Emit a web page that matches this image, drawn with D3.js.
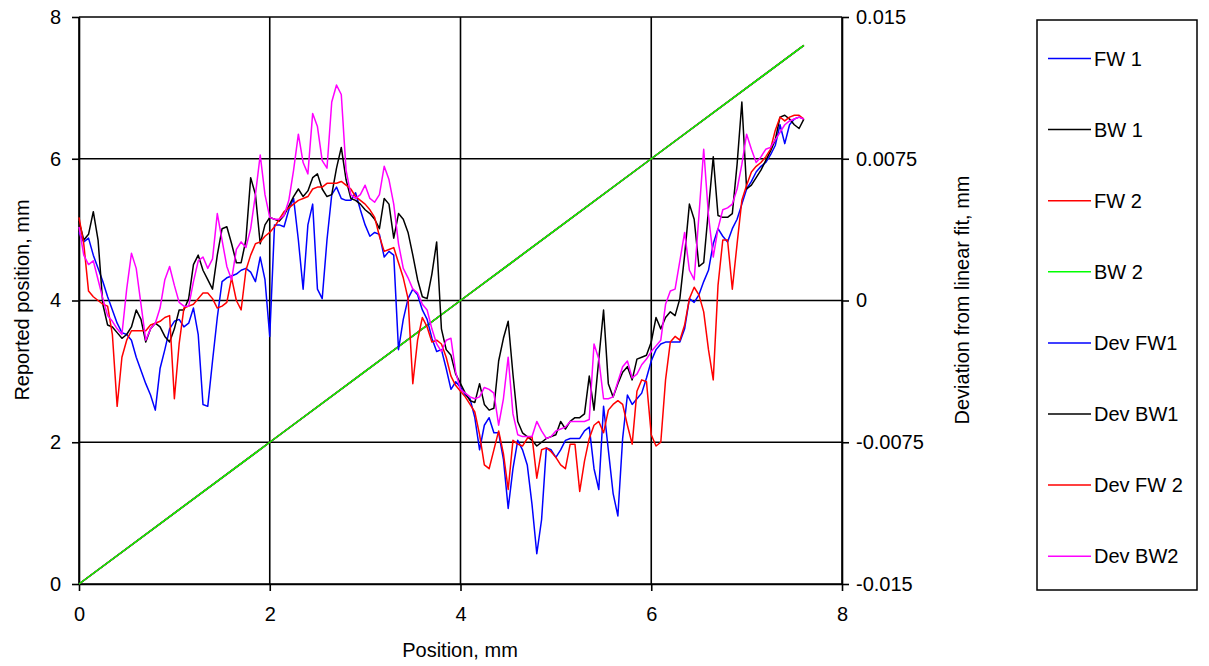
<!DOCTYPE html>
<html>
<head>
<meta charset="utf-8">
<script src="https://cdn.jsdelivr.net/npm/d3@7"></script>
<style>
  html, body { margin: 0; padding: 0; background: #fff; }
  svg { display: block; }
  text { font-family: "Liberation Sans", Arial, sans-serif; fill: #000; }
</style>
</head>
<body>
<svg id="chart" width="1209" height="666"></svg>
<script>
// Commanded stage positions (mm) for the reported-position traces
const fitPositions = [0, 1, 2, 3, 4, 5, 6, 7, 7.6];
// Reported position (mm) for each pass
const reportedFW1 = [0, 1, 2, 3, 4, 5, 6, 7, 7.6];
const reportedBW1 = [0, 1, 2, 3, 4, 5, 6, 7, 7.6];
const reportedFW2 = [0, 1, 2, 3, 4, 5, 6, 7, 7.6];
const reportedBW2 = [0, 1, 2, 3, 4, 5, 6, 7, 7.6];

// Deviation samples are taken every 0.05 mm from 0 to 7.6 mm
const sampleStep = 0.05;
const sampleCount = 153;

// Deviation from linear fit, in micrometres
const devFW1 = [
  3.6, 3.1, 3.3, 2.4, 1.7, 1.0, 0.2, -0.5, -1.2, -1.7,
  -1.8, -2.1, -3.0, -3.7, -4.4, -5.0, -5.8, -3.6, -2.6, -1.5,
  -1.1, -1.0, -1.4, -1.2, -0.4, -1.8, -5.5, -5.6, -3.2, -0.9,
  1.0, 1.2, 1.3, 1.4, 1.6, 1.7, 1.5, 1.0, 2.3, 1.1,
  -1.9, 4.0, 4.0, 3.9, 4.8, 5.4, 3.2, 0.6, 4.0, 5.1,
  0.6, 0.1, 3.2, 5.6, 6.0, 5.4, 5.3, 5.3, 5.7, 4.8,
  4.0, 3.4, 3.6, 3.5, 2.3, 2.6, 2.4, -2.6, -1.0, 0.1,
  0.6, 0.3, -0.5, -1.0, -2.0, -2.7, -2.6, -3.6, -4.7, -4.3,
  -4.6, -5.0, -5.2, -6.2, -7.9, -6.6, -6.2, -7.0, -7.0, -8.4,
  -11.0, -8.9, -7.4, -7.9, -8.7, -10.8, -13.4, -11.6, -7.8, -7.9,
  -8.3, -7.9, -7.4, -7.3, -7.3, -7.3, -6.9, -6.7, -8.9, -10.0,
  -5.6, -7.9, -10.2, -11.4, -7.3, -5.0, -5.5, -5.2, -4.9, -4.1,
  -3.2, -2.6, -2.3, -2.2, -2.2, -2.2, -2.2, -1.5, 0.1, -0.1,
  0.3, 1.0, 1.6, 3.0, 3.8, 3.4, 3.1, 3.8, 4.3, 5.1,
  5.9, 6.3, 6.8, 7.1, 7.3, 7.7, 8.2, 9.3, 8.3, 9.3,
  9.6, 9.7, 9.6
];
const devBW1 = [
  4.2, 3.2, 3.5, 4.7, 3.2, -0.2, -1.3, -1.4, -1.7, -2.0,
  -1.8, -1.4, -0.5, -1.0, -2.2, -1.5, -1.2, -1.4, -1.9, -2.2,
  -1.5, -0.5, -0.5, 0.1, 1.9, 2.4, 1.6, 1.1, 0.6, 2.4,
  3.8, 3.9, 3.0, 2.0, 2.0, 3.2, 6.5, 5.6, 3.0, 4.0,
  4.4, 4.3, 4.2, 4.5, 5.0, 5.5, 5.9, 5.5, 5.8, 6.5,
  6.7, 5.9, 5.5, 5.6, 7.0, 8.1, 6.4, 5.4, 5.3, 5.1,
  4.8, 4.6, 4.3, 3.8, 5.4, 5.1, 3.3, 4.6, 4.3, 3.6,
  2.4, 1.1, 0.2, 0.1, 1.4, 3.1, -1.5, -2.6, -2.9, -3.9,
  -4.4, -4.9, -5.3, -5.4, -4.4, -5.5, -5.8, -5.7, -3.2, -2.0,
  -1.1, -3.9, -6.4, -7.0, -7.2, -7.4, -7.7, -7.5, -7.3, -7.2,
  -7.1, -6.4, -6.8, -6.4, -6.2, -6.2, -6.0, -4.0, -5.8, -3.1,
  -0.5, -4.4, -5.1, -4.4, -3.8, -3.5, -4.2, -3.1, -3.0, -2.9,
  -2.2, -0.9, -1.5, -0.9, -0.6, -0.8, 0.1, 2.4, 5.1, 4.3,
  1.8, 2.0, 4.8, 7.6, 4.5, 4.4, 4.4, 4.6, 7.2, 10.5,
  5.9, 6.1, 6.5, 6.9, 7.4, 7.9, 8.5, 9.7, 9.8, 9.6,
  9.3, 9.1, 9.6
];
const devFW2 = [
  4.4, 3.0, 0.5, 0.2, 0.0, -0.2, -0.3, -1.8, -5.6, -3.0,
  -2.1, -1.6, -1.6, -1.6, -1.6, -1.3, -1.2, -1.1, -0.9, -0.8,
  -5.2, -2.3, -0.4, -0.3, -0.2, 0.1, 0.4, 0.4, 0.1, -0.4,
  -0.3, -0.1, 1.2, 0.0, -0.5, 1.6, 2.4, 3.0, 3.1, 3.4,
  3.6, 3.9, 4.3, 4.7, 4.9, 5.1, 5.3, 5.4, 5.5, 5.9,
  6.0, 6.0, 6.2, 6.2, 6.2, 6.3, 6.1, 5.9, 5.5, 5.3,
  5.1, 4.8, 4.4, 3.4, 2.6, 2.7, 2.8, 2.0, 1.2, 0.1,
  -4.4, -2.1, -0.9, -1.4, -2.2, -2.1, -2.3, -3.0, -4.0, -4.5,
  -4.8, -5.1, -5.5, -5.9, -7.1, -8.7, -8.9, -7.9, -6.9, -8.1,
  -10.0, -7.4, -7.6, -7.7, -7.3, -7.2, -9.4, -7.9, -7.8, -8.0,
  -8.3, -8.7, -8.9, -7.6, -7.6, -10.1, -8.5, -7.3, -6.6, -6.4,
  -7.0, -5.8, -5.5, -5.3, -5.5, -6.6, -7.6, -4.8, -4.2, -4.3,
  -7.1, -7.7, -7.5, -4.2, -2.2, -1.9, -2.1, -1.3, 0.1, 0.7,
  0.3, -0.6, -2.6, -4.2, 0.8, 3.2, 3.2, 0.6, 3.0, 5.3,
  6.1, 6.8, 7.1, 7.3, 7.6, 8.0, 9.0, 9.7, 9.5, 9.7,
  9.8, 9.8, 9.6
];
const devBW2 = [
  3.9, 2.4, 1.9, 2.1, 1.1, 0.1, -0.8, -1.1, -1.5, -1.8,
  0.6, 2.5, 1.7, -0.2, -2.1, -1.5, -1.2, -0.4, 1.1, 1.8,
  0.8, -0.1, -0.3, -0.3, 1.0, 2.1, 2.3, 1.7, 2.2, 4.6,
  3.2, 1.8, 1.1, 2.7, 3.1, 2.8, 3.8, 5.6, 7.7, 5.6,
  4.4, 4.3, 4.3, 4.5, 5.3, 6.9, 8.8, 7.3, 6.7, 9.9,
  9.2, 7.4, 7.0, 10.5, 11.4, 10.9, 6.9, 5.6, 5.4, 5.6,
  6.1, 5.4, 5.2, 5.6, 7.1, 6.4, 5.1, 3.0, 1.7, 1.2,
  0.6, 0.4, -0.2, -0.5, -1.5, -2.3, -2.7, -2.1, -2.0, -3.8,
  -4.7, -4.9, -5.1, -5.2, -5.1, -4.6, -4.7, -4.9, -6.6, -5.2,
  -3.0, -6.0, -7.1, -7.2, -7.2, -7.2, -6.4, -6.9, -7.3, -7.2,
  -6.9, -6.8, -6.7, -6.4, -6.4, -6.4, -6.4, -6.3, -2.3, -3.1,
  -5.2, -5.2, -5.1, -4.3, -3.5, -3.2, -4.1, -3.9, -3.4, -3.1,
  -2.7, -2.4, -2.1, -0.2, 0.5, 0.6, 2.1, 3.6, 1.6, 1.1,
  4.5, 8.0, 4.5, 2.3, 3.8, 4.8, 4.9, 5.1, 5.9, 7.2,
  8.8, 8.0, 7.3, 7.6, 8.0, 8.1, 8.5, 8.9, 9.3, 9.5,
  9.6, 9.7, 9.6
];

// Axis ticks
const xTicks = [0, 2, 4, 6, 8];
const yLeftTicks = [0, 2, 4, 6, 8];
const yRightTicks = [-0.015, -0.0075, 0, 0.0075, 0.015];

const svg = d3.select("#chart");
const plot = { left: 79, right: 842, top: 17, bottom: 584 };

const x = d3.scaleLinear().domain([0, 8]).range([plot.left, plot.right]);
const yL = d3.scaleLinear().domain([0, 8]).range([plot.bottom, plot.top]);
const yR = d3.scaleLinear().domain([-0.015, 0.015]).range([plot.bottom, plot.top]);

const samplePositions = d3.range(sampleCount).map(i => +(i * sampleStep).toFixed(2));

// Gridlines
const grid = svg.append("g").attr("stroke", "#000").attr("stroke-width", 1.6);
yLeftTicks.forEach(t => {
  grid.append("line").attr("x1", plot.left).attr("x2", plot.right)
    .attr("y1", yL(t)).attr("y2", yL(t));
});
xTicks.forEach(t => {
  grid.append("line").attr("y1", plot.top).attr("y2", plot.bottom)
    .attr("x1", x(t)).attr("x2", x(t));
});

// Axes
function styleAxis(g) {
  g.selectAll("path.domain").attr("stroke", "#000").attr("stroke-width", 1.6);
  g.selectAll(".tick line").attr("stroke", "#000").attr("stroke-width", 1.6);
  g.selectAll(".tick text").attr("font-size", 20)
    .attr("font-family", '"Liberation Sans", Arial, sans-serif').attr("fill", "#000");
}
svg.append("g").attr("transform", `translate(${plot.left},0)`)
  .call(d3.axisLeft(yL).tickValues(yLeftTicks).tickSize(7).tickSizeOuter(0).tickPadding(11).tickFormat(d3.format("d")))
  .call(styleAxis);
svg.append("g").attr("transform", `translate(0,${plot.bottom})`)
  .call(d3.axisBottom(x).tickValues(xTicks).tickSize(7).tickSizeOuter(0).tickPadding(16).tickFormat(d3.format("d")))
  .call(styleAxis);
svg.append("g").attr("transform", `translate(${plot.right},0)`)
  .call(d3.axisRight(yR).tickValues(yRightTicks).tickSize(7).tickSizeOuter(0).tickPadding(7)
    .tickFormat(d => d === 0 ? "0" : String(+d.toPrecision(4))))
  .call(styleAxis);

// Series
const series = [
  { name: "FW 1", color: "#0000ff", xs: fitPositions, ys: reportedFW1, axis: "left" },
  { name: "BW 1", color: "#000000", xs: fitPositions, ys: reportedBW1, axis: "left" },
  { name: "FW 2", color: "#ff0000", xs: fitPositions, ys: reportedFW2, axis: "left" },
  { name: "BW 2", color: "#00ff00", xs: fitPositions, ys: reportedBW2, axis: "left" },
  { name: "Dev FW1", color: "#0000ff", xs: samplePositions, ys: devFW1, axis: "right" },
  { name: "Dev BW1", color: "#000000", xs: samplePositions, ys: devBW1, axis: "right" },
  { name: "Dev FW 2", color: "#ff0000", xs: samplePositions, ys: devFW2, axis: "right" },
  { name: "Dev BW2", color: "#ff00ff", xs: samplePositions, ys: devBW2, axis: "right" }
];

const lines = svg.append("g").attr("fill", "none");
series.forEach(s => {
  const yScale = s.axis === "left" ? yL : yR;
  const toValue = s.axis === "left" ? (v => v) : (v => v / 1000);
  const line = d3.line()
    .x((d, i) => x(s.xs[i]))
    .y(d => yScale(toValue(d)));
  lines.append("path")
    .datum(s.ys)
    .attr("d", line)
    .attr("stroke", s.color)
    .attr("stroke-width", 1.5)
    .attr("stroke-linejoin", "round");
});

// Axis titles
svg.append("text")
  .attr("transform", "translate(22,300) rotate(-90)")
  .attr("text-anchor", "middle").attr("dominant-baseline", "central")
  .attr("font-size", 20).text("Reported position, mm");
svg.append("text")
  .attr("transform", "translate(962,300) rotate(-90)")
  .attr("text-anchor", "middle").attr("dominant-baseline", "central")
  .attr("font-size", 20).text("Deviation from linear fit, mm");
svg.append("text")
  .attr("x", 460).attr("y", 650)
  .attr("text-anchor", "middle").attr("dominant-baseline", "central")
  .attr("font-size", 20).text("Position, mm");

// Legend
const legend = svg.append("g");
legend.append("rect")
  .attr("x", 1037).attr("y", 20).attr("width", 160).attr("height", 570)
  .attr("fill", "#fff").attr("stroke", "#000").attr("stroke-width", 1.5);
series.forEach((s, i) => {
  const cy = 58.5 + i * 71.1;
  legend.append("line")
    .attr("x1", 1048).attr("x2", 1091).attr("y1", cy).attr("y2", cy)
    .attr("stroke", s.color).attr("stroke-width", 1.5);
  legend.append("text")
    .attr("x", 1094).attr("y", cy)
    .attr("dominant-baseline", "central")
    .attr("font-size", 20).text(s.name);
});
</script>
</body>
</html>
